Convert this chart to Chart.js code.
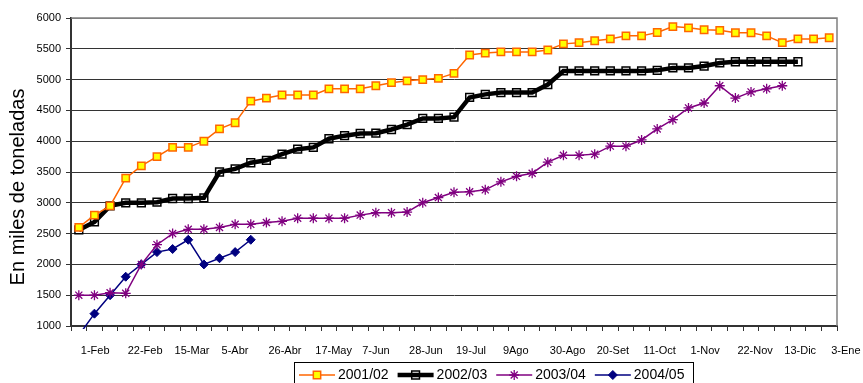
<!DOCTYPE html>
<html><head><meta charset="utf-8">
<script src="https://cdn.jsdelivr.net/npm/chart.js@4/dist/chart.umd.min.js"></script>
<style>html,body{margin:0;padding:0;background:#fff;overflow:hidden}#wrap{width:863px;height:383px;position:relative}</style>
</head><body><div id="wrap"><canvas id="c" width="863" height="383"></canvas></div>
<script>
// ---- data ----
const weeks = ['1-Feb','8-Feb','15-Feb','22-Feb','1-Mar','8-Mar','15-Mar','22-Mar','29-Mar','5-Abr','12-Abr','19-Abr','26-Abr','3-May','10-May','17-May','24-May','31-May','7-Jun','14-Jun','21-Jun','28-Jun','5-Jul','12-Jul','19-Jul','26-Jul','2-Ago','9Ago','16-Ago','23-Ago','30-Ago','6-Set','13-Set','20-Set','27-Set','4-Oct','11-Oct','18-Oct','25-Oct','1-Nov','8-Nov','15-Nov','22-Nov','29-Nov','6-Dic','13-Dic','20-Dic','27-Dic','3-Ene'];
const shownLabels = ['1-Feb','22-Feb','15-Mar','5-Abr','26-Abr','17-May','7-Jun','28-Jun','19-Jul','9Ago','30-Ago','20-Set','11-Oct','1-Nov','22-Nov','13-Dic','3-Ene'];
const seriesNames = ['2001/02','2002/03','2003/04','2004/05'];
const s2001 = [2600,2800,2950,3400,3600,3750,3900,3900,4000,4200,4300,4650,4700,4750,4750,4750,4850,4850,4850,4900,4950,4980,5000,5020,5100,5400,5430,5450,5450,5450,5480,5580,5600,5630,5660,5710,5710,5765,5860,5840,5810,5800,5760,5760,5710,5600,5660,5660,5680];
const s2002 = [2560,2690,2950,3000,3000,3010,3070,3070,3080,3500,3550,3650,3690,3790,3870,3900,4040,4090,4125,4130,4190,4270,4370,4370,4390,4710,4760,4790,4790,4790,4920,5140,5140,5140,5140,5140,5140,5150,5190,5190,5220,5270,5290,5290,5290,5290,5290];
const s2003 = [1500,1500,1540,1530,2000,2320,2500,2570,2570,2600,2650,2650,2680,2700,2750,2750,2750,2750,2800,2840,2840,2850,3000,3085,3170,3180,3210,3340,3430,3480,3660,3770,3770,3790,3920,3920,4020,4200,4350,4540,4620,4900,4700,4800,4850,4900];
const s2004 = [850,1200,1500,1800,2000,2200,2250,2400,2000,2100,2200,2400];
const yMin = 1000, yMax = 6000, yStep = 500;
const yTitle = 'En miles de toneladas';

const FONT = '"Liberation Sans", Arial, sans-serif';

function drawMarker(ctx, d, x, y) {
  ctx.save();
  ctx.fillStyle = d.pointBackgroundColor;
  ctx.strokeStyle = d.pointBorderColor;
  ctx.lineWidth = d.pointBorderWidth;
  const r = d.pointRadius;
  ctx.beginPath();
  if (d.pointStyle === 'rect') {
    const s = r * Math.SQRT1_2;
    ctx.rect(x - s, y - s, 2 * s, 2 * s);
    ctx.fill(); ctx.stroke();
  } else if (d.pointStyle === 'rectRot') {
    ctx.moveTo(x, y - r); ctx.lineTo(x + r, y); ctx.lineTo(x, y + r); ctx.lineTo(x - r, y); ctx.closePath();
    ctx.fill(); ctx.stroke();
  } else {
    for (let k = 0; k < 4; k++) {
      const a = k * Math.PI / 4;
      ctx.moveTo(x - r * Math.cos(a), y - r * Math.sin(a));
      ctx.lineTo(x + r * Math.cos(a), y + r * Math.sin(a));
    }
    ctx.stroke();
  }
  ctx.restore();
}

const frame = {
  id: 'frame',
  beforeDatasetsDraw(chart) {
    const {ctx, chartArea: a} = chart;
    ctx.save();
    ctx.strokeStyle = '#808080'; ctx.lineWidth = 1.5;
    ctx.beginPath();
    ctx.moveTo(a.left, a.top); ctx.lineTo(a.right, a.top); ctx.lineTo(a.right, a.bottom);
    ctx.stroke();
    ctx.restore();
  }
};

const yAxisTitle = {
  id: 'yAxisTitle',
  afterDraw(chart) {
    const ctx = chart.ctx;
    ctx.save();
    ctx.translate(18, 187);
    ctx.rotate(-Math.PI / 2);
    ctx.font = '20px ' + FONT;
    ctx.fillStyle = '#000';
    ctx.textAlign = 'center';
    ctx.textBaseline = 'middle';
    ctx.fillText(yTitle, 0, 0);
    ctx.restore();
  }
};

const boxLegend = {
  id: 'boxLegend',
  afterDraw(chart) {
    const ctx = chart.ctx;
    ctx.save();
    ctx.strokeStyle = '#000'; ctx.lineWidth = 1;
    ctx.strokeRect(294.5, 362.5, 399, 40);
    ctx.font = '14px ' + FONT;
    ctx.textBaseline = 'middle';
    ctx.textAlign = 'left';
    let x = 299; const y = 375;
    chart.data.datasets.forEach(d => {
      ctx.strokeStyle = d.borderColor; ctx.lineWidth = d.borderWidth;
      ctx.beginPath(); ctx.moveTo(x, y); ctx.lineTo(x + 36, y); ctx.stroke();
      drawMarker(ctx, d, x + 18, y);
      ctx.fillStyle = '#000';
      ctx.fillText(d.label, x + 39, y);
      x += 39 + ctx.measureText(d.label).width + 9;
    });
    ctx.restore();
  }
};

new Chart(document.getElementById('c'), {
  type: 'line',
  data: {
    labels: weeks,
    datasets: [
      {label: seriesNames[0], data: s2001, borderColor: '#FF6600', backgroundColor: '#FFFF00', borderWidth: 1.5,
       pointStyle: 'rect', pointRadius: 5.2, pointBorderWidth: 1.5, pointBorderColor: '#FF6600', pointBackgroundColor: '#FFFF00'},
      {label: seriesNames[1], data: s2002, borderColor: '#000000', backgroundColor: '#000', borderWidth: 4.5,
       pointStyle: 'rect', pointRadius: 5.5, pointBorderWidth: 1.5, pointBorderColor: '#000000', pointBackgroundColor: 'rgba(255,255,255,0)'},
      {label: seriesNames[2], data: s2003, borderColor: '#800080', backgroundColor: '#800080', borderWidth: 1.5,
       pointStyle: 'star', pointRadius: 5, pointBorderWidth: 1.3, pointBorderColor: '#800080', pointBackgroundColor: '#800080'},
      {label: seriesNames[3], data: s2004, borderColor: '#000080', backgroundColor: '#000080', borderWidth: 1.5,
       pointStyle: 'rectRot', pointRadius: 4.5, pointBorderWidth: 1, pointBorderColor: '#000080', pointBackgroundColor: '#000080',
       clip: {left: 5, right: 5, top: 5, bottom: 3}}
    ]
  },
  options: {
    responsive: false, animation: false, devicePixelRatio: 1,
    layout: {padding: {left: 0, right: 26, top: 18, bottom: 0}},
    elements: {line: {tension: 0}},
    plugins: {legend: {display: false}, tooltip: {enabled: false}, title: {display: false}},
    scales: {
      x: {
        type: 'category', offset: true,
        grid: {offset: true, drawOnChartArea: false, drawTicks: true, tickLength: 5, color: '#333', tickColor: '#333'},
        border: {display: true, color: '#333', width: 2},
        ticks: {autoSkip: false, maxRotation: 0, minRotation: 0, align: 'start', labelOffset: 2, padding: 13,
          color: '#000', font: {family: FONT, size: 11},
          callback: function(v, i) { const l = weeks[i]; return shownLabels.includes(l) ? l : ''; }},
        afterFit: s => { s.height = 57; s.paddingLeft = 0; s.paddingRight = 0; }
      },
      y: {
        min: yMin, max: yMax,
        grid: {color: c => (c.tick && c.tick.value === yMax) ? '#808080' : '#333', lineWidth: 1, tickLength: 5, tickColor: '#333'},
        border: {display: true, color: '#333', width: 2},
        ticks: {stepSize: yStep, padding: 5, color: '#000', font: {family: FONT, size: 11},
          callback: v => String(v)},
        title: {display: false},
        afterFit: s => { s.width = 71; }
      }
    }
  },
  plugins: [frame, yAxisTitle, boxLegend]
});
</script>
</body></html>
